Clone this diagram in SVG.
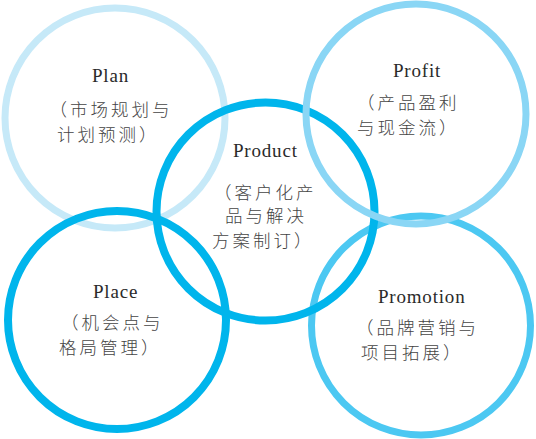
<svg xmlns="http://www.w3.org/2000/svg" width="536" height="439" viewBox="0 0 536 439">
<style>
.ring{fill:none}
.en{font-family:"Liberation Serif","Times New Roman",serif;font-size:19px;letter-spacing:0.8px;fill:#2a2a2a}
.zh{font-family:"Noto Sans CJK SC","Noto Sans CJK JP",sans-serif;font-weight:300;font-size:17.5px;letter-spacing:3px;fill:#444444}
</style>
<rect width="536" height="439" fill="#ffffff"/>
<g id="connectors"></g>
<g id="plan">
<circle class="ring" cx="115" cy="118" r="110" stroke="#c6e9f8" stroke-width="7"/>
<text class="en" x="92" y="82">Plan</text>
<text class="zh" x="49.5" y="116">（市场规划与</text>
<text class="zh" x="57" y="141">计划预测）</text>
</g>
<g id="promotion">
<circle class="ring" cx="421" cy="325.5" r="109.5" stroke="#4cc8f2" stroke-width="7"/>
<text class="en" x="378" y="303">Promotion</text>
<text class="zh" x="356" y="334">（品牌营销与</text>
<text class="zh" x="361" y="359">项目拓展）</text>
</g>
<g id="place">
<circle class="ring" cx="117" cy="320" r="109" stroke="#00b5ec" stroke-width="8"/>
<text class="en" x="93" y="298">Place</text>
<text class="zh" x="61" y="329">（机会点与</text>
<text class="zh" x="59" y="354">格局管理）</text>
</g>
<g id="product">
<circle class="ring" cx="265.5" cy="211.5" r="109" stroke="#00b5ec" stroke-width="8"/>
<text class="en" x="233" y="157">Product</text>
<text class="zh" x="214" y="199">（客户化产</text>
<text class="zh" x="225" y="222">品与解决</text>
<text class="zh" x="212" y="247">方案制订）</text>
</g>
<g id="profit">
<circle class="ring" cx="416" cy="114" r="110" stroke="#8ad6f5" stroke-width="7"/>
<text class="en" x="393" y="77">Profit</text>
<text class="zh" x="357" y="109">（产品盈利</text>
<text class="zh" x="357" y="134">与现金流）</text>
</g>
</svg>
